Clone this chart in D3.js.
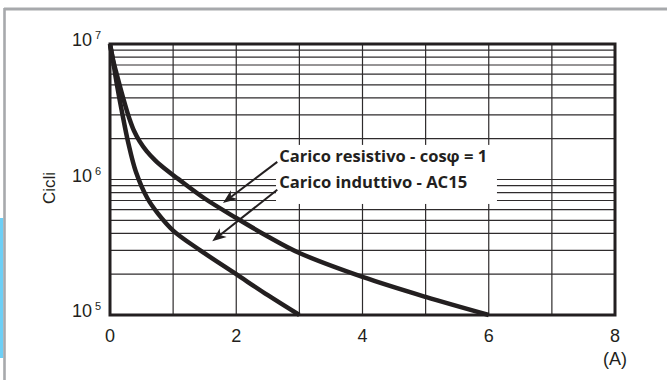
<!DOCTYPE html>
<html>
<head>
<meta charset="utf-8">
<script src="https://cdn.jsdelivr.net/npm/d3@7"></script>
<style>
  body { margin: 0; background: #fff; }
  svg { display: block; }
</style>
</head>
<body>
<svg width="667" height="380"></svg>
<script>
// resistive load curve (A, cycles)
var resCurrent = [0, 0.05, 0.11, 0.24, 0.3, 0.38, 0.47, 0.58, 0.72, 0.9, 1.08, 1.5, 2, 2.5, 3, 4, 5, 6];
var resCycles = [1e7, 7.6e6, 5.9e6, 3.55e6, 2.88e6, 2.29e6, 1.91e6, 1.62e6, 1.38e6, 1.17e6, 1.01e6, 7.24e5, 5.2e5, 3.8e5, 2.87e5, 1.91e5, 1.36e5, 1e5];

// inductive load curve (AC15)
var indCurrent = [0, 0.05, 0.11, 0.19, 0.29, 0.41, 0.59, 0.76, 1, 1.43, 2, 2.5, 3];
var indCycles = [1e7, 7.4e6, 5e6, 3.15e6, 1.86e6, 1.14e6, 7.3e5, 5.6e5, 4.2e5, 3e5, 2e5, 1.4e5, 1e5];

var xTicks = [0, 2, 4, 6, 8];
var yDecades = [5, 6, 7];
var labels = ["Carico resistivo - cos\u03c6 = 1", "Carico induttivo - AC15"];
// arrow start / tip in data units
var arrowFrom = [[2.65, 1.35e6], [2.65, 8.4e5]];
var arrowTo = [[1.79, 6.7e5], [1.62, 3.5e5]];

var svg = d3.select("svg"),
    ink = "#231f20";

var x = d3.scaleLinear().domain([0, 8]).range([110, 615]);
var y = d3.scaleLog().domain([1e5, 1e7]).range([315, 44]);

// page frame
svg.append("rect").attr("x", 0).attr("y", 218).attr("width", 3.3).attr("height", 140).attr("fill", "#6dcff6");
svg.append("line").attr("x1", 4.5).attr("x2", 4.5).attr("y1", 8).attr("y2", 380)
    .attr("stroke", "#a7a9ac").attr("stroke-width", 2.6);
svg.append("line").attr("x1", 4).attr("x2", 667).attr("y1", 9).attr("y2", 9)
    .attr("stroke", "#a7a9ac").attr("stroke-width", 3);

// grid
var grid = svg.append("g").attr("stroke", "#2e2b2c").attr("stroke-width", 1.2);
grid.selectAll(".v").data(d3.range(1, 8)).enter().append("line")
    .attr("x1", function(d) { return x(d); }).attr("x2", function(d) { return x(d); })
    .attr("y1", y(1e7)).attr("y2", y(1e5));
grid.selectAll(".h").data(y.ticks().filter(function(d) { return d > 1e5 && d < 1e7; })).enter().append("line")
    .attr("x1", x(0)).attr("x2", x(8))
    .attr("y1", function(d) { return y(d); }).attr("y2", function(d) { return y(d); });

// white patch behind annotation
svg.append("rect")
    .attr("x", x(2.63)).attr("y", y(1.8e6))
    .attr("width", x(6.13) - x(2.63)).attr("height", y(6.6e5) - y(1.8e6))
    .attr("fill", "#fff");

// curves
var line = d3.line().curve(d3.curveCatmullRom.alpha(0.5));
[[resCurrent, resCycles], [indCurrent, indCycles]].forEach(function(s) {
  svg.append("path")
      .attr("d", line(s[0].map(function(c, i) { return [x(c), y(s[1][i])]; })))
      .attr("fill", "none").attr("stroke", ink).attr("stroke-width", 4.5);
});

// frame of the plot
svg.append("rect")
    .attr("x", x(0)).attr("y", y(1e7))
    .attr("width", x(8) - x(0)).attr("height", y(1e5) - y(1e7))
    .attr("fill", "none").attr("stroke", ink).attr("stroke-width", 3);

// y labels
var yl = svg.append("g").attr("font-family", "Liberation Sans, Arial, sans-serif").attr("fill", ink);
yDecades.forEach(function(p) {
  var t = yl.append("text").attr("x", 72).attr("y", y(Math.pow(10, p)) + 2).attr("font-size", 18);
  t.append("tspan").text("10");
  t.append("tspan").attr("dx", 3).attr("dy", -7).attr("font-size", 11).text(p);
});
yl.append("text").attr("transform", "translate(55,188) rotate(-90)")
    .attr("text-anchor", "middle").attr("font-size", 17).text("Cicli");

// x labels
var xl = svg.append("g").attr("font-family", "Liberation Sans, Arial, sans-serif")
    .attr("fill", ink).attr("font-size", 18).attr("text-anchor", "middle");
xl.selectAll("text").data(xTicks).enter().append("text")
    .attr("x", function(d) { return x(d); }).attr("y", 342).text(function(d) { return d; });
xl.append("text").attr("x", x(8)).attr("y", 365).text("(A)");

// annotation
var widths = [208, 188];
labels.forEach(function(s, i) {
  svg.append("text")
      .attr("x", x(2.68)).attr("y", i == 0 ? y(1.35e6) : y(8.65e5))
      .attr("font-family", "Open Sans, sans-serif").attr("font-weight", "bold")
      .attr("font-size", 16).attr("fill", ink)
      .attr("textLength", widths[i]).attr("lengthAdjust", "spacingAndGlyphs")
      .text(s);
});

arrowFrom.forEach(function(a, i) {
  var x0 = x(a[0]), y0 = y(a[1]), x1 = x(arrowTo[i][0]), y1 = y(arrowTo[i][1]);
  var ang = Math.atan2(y1 - y0, x1 - x0), ux = Math.cos(ang), uy = Math.sin(ang);
  var L = 14, W = 5.5, N = 10;
  svg.append("line").attr("x1", x0).attr("y1", y0)
      .attr("x2", x1 - ux * N).attr("y2", y1 - uy * N)
      .attr("stroke", ink).attr("stroke-width", 2);
  var pts = [
    [x1, y1],
    [x1 - ux * L - uy * W, y1 - uy * L + ux * W],
    [x1 - ux * N, y1 - uy * N],
    [x1 - ux * L + uy * W, y1 - uy * L - ux * W]
  ];
  svg.append("path").attr("d", "M" + pts.join("L") + "Z").attr("fill", ink);
});
</script>
</body>
</html>
